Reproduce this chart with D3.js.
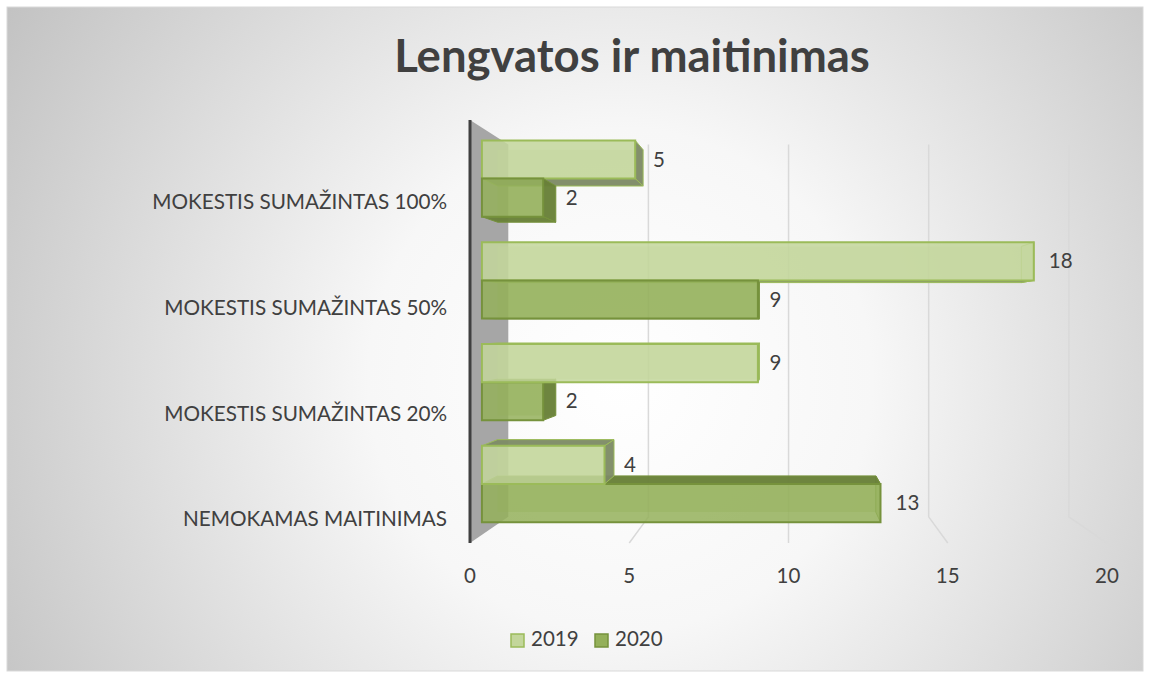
<!DOCTYPE html>
<html>
<head>
<meta charset="utf-8">
<script src="https://cdn.jsdelivr.net/npm/d3@7"></script>
<style>
  body { margin: 0; background: #ffffff; }
  text { font-family: Lato, "Open Sans", sans-serif; fill: #404040; }
</style>
</head>
<body>
<div id="chart"></div>
<script>
// data (Excel order: bottom category first)
var categories = ["NEMOKAMAS MAITINIMAS", "MOKESTIS SUMAŽINTAS 20%", "MOKESTIS SUMAŽINTAS 50%", "MOKESTIS SUMAŽINTAS 100%"];
var seriesNames = ["2019", "2020"];
var values2019 = [4, 9, 18, 5];
var values2020 = [13, 2, 9, 2];
var xTicks = [0, 5, 10, 15, 20];
var chartTitle = "Lengvatos ir maitinimas";

function init() {
    var w = 1149;
    var h = 675;

    var colors = {
        "2019": { face: "#c3d69b", side: "#7d8a66", stroke: "#9bbb59" },
        "2020": { face: "#94b05a", side: "#687f38", stroke: "#76923c" }
    };

    var svg = d3.select("#chart")
        .append("svg")
        .attr("width", w)
        .attr("height", h);

    var defs = svg.append("defs");
    var bg = defs.append("radialGradient")
        .attr("id", "bg")
        .attr("gradientUnits", "userSpaceOnUse")
        .attr("cx", 620).attr("cy", 380).attr("r", 720);
    bg.append("stop").attr("offset", "0%").attr("stop-color", "#ffffff");
    bg.append("stop").attr("offset", "35%").attr("stop-color", "#f7f7f7");
    bg.append("stop").attr("offset", "100%").attr("stop-color", "#c2c2c2");

    svg.append("rect")
        .attr("x", 7).attr("y", 7)
        .attr("width", 1136).attr("height", 664)
        .attr("fill", "url(#bg)")
        .attr("stroke", "#d9d9d9")
        .attr("stroke-width", 1);

    // front plane scales, depth projection toward a vanishing point
    var x = d3.scaleLinear().domain([0, 20]).range([470, 1107]);
    var yBand = d3.scaleBand()
        .domain(categories.slice().reverse())
        .range([120, 543])
        .paddingInner(0.25)
        .paddingOuter(0.125);
    var ySub = d3.scaleBand().domain(seriesNames).range([0, yBand.bandwidth()]);
    var shrink = d3.scaleLinear().domain([0, 1]).range([1, 0.88]);
    var vp = [789, 325];

    function proj(v, y, z) {
        var s = shrink(z);
        return [vp[0] + (x(v) - vp[0]) * s, vp[1] + (y - vp[1]) * s];
    }
    function poly(pts) {
        return "M" + pts.map(function (p) { return p[0].toFixed(1) + "," + p[1].toFixed(1); }).join("L") + "Z";
    }

    var yTop = yBand.range()[0], yBot = yBand.range()[1];

    // left wall
    svg.append("path")
        .attr("d", poly([proj(0, yTop, 0), proj(0, yTop, 1), proj(0, yBot, 1), proj(0, yBot, 0)]))
        .attr("fill", "#a6a6a6");

    // gridlines on back wall + floor
    svg.selectAll(".grid")
        .data(xTicks.filter(function (d) { return d > 0; }))
        .enter().append("path")
        .attr("class", "grid")
        .attr("d", function (d) {
            var a = proj(d, yTop, 1), b = proj(d, yBot, 1), c = proj(d, yBot, 0);
            return "M" + a + "L" + b + "L" + c;
        })
        .attr("fill", "none")
        .attr("stroke", "#d9d9d9")
        .attr("stroke-width", 1.5);

    // axis line
    svg.append("line")
        .attr("x1", x(0)).attr("y1", yTop)
        .attr("x2", x(0)).attr("y2", yBot)
        .attr("stroke", "#404040")
        .attr("stroke-width", 3);

    // bars
    var z0 = 0.31, z1 = 0.72;
    var bars = [];
    categories.forEach(function (c, i) {
        var list = [
            { cat: c, key: "2019", value: values2019[i] },
            { cat: c, key: "2020", value: values2020[i] }
        ];
        list.forEach(function (b) {
            b.y0 = yBand(c) + ySub(b.key);
            b.y1 = b.y0 + ySub.bandwidth();
        });
        // draw the bar farther from eye level first
        if (list[0].y1 > vp[1]) list.reverse();
        bars = bars.concat(list);
    });

    var barG = svg.selectAll(".bar")
        .data(bars)
        .enter().append("g")
        .attr("class", "bar");

    barG.each(function (b) {
        var g = d3.select(this);
        var col = colors[b.key];
        var v = b.value;
        // back face
        g.append("path")
            .attr("d", poly([proj(0, b.y0, z1), proj(v, b.y0, z1), proj(v, b.y1, z1), proj(0, b.y1, z1)]))
            .attr("fill", col.face).attr("fill-opacity", 0.35);
        // end cap
        g.append("path")
            .attr("d", poly([proj(v, b.y0, z0), proj(v, b.y0, z1), proj(v, b.y1, z1), proj(v, b.y1, z0)]))
            .attr("fill", x(v) < vp[0] ? col.side : col.face)
            .attr("fill-opacity", x(v) < vp[0] ? 0.95 : 0.6)
            .attr("stroke", col.stroke).attr("stroke-width", 1);
        // top or bottom face
        var yy = b.y1 < vp[1] ? b.y1 : b.y0;
        g.append("path")
            .attr("d", poly([proj(0, yy, z0), proj(v, yy, z0), proj(v, yy, z1), proj(0, yy, z1)]))
            .attr("fill", col.side).attr("fill-opacity", 0.95)
            .attr("stroke", col.stroke).attr("stroke-width", 1);
        // front face
        g.append("path")
            .attr("d", poly([proj(0, b.y0, z0), proj(v, b.y0, z0), proj(v, b.y1, z0), proj(0, b.y1, z0)]))
            .attr("fill", col.face).attr("fill-opacity", 0.85)
            .attr("stroke", col.stroke).attr("stroke-width", 2);
    });

    // data labels
    svg.selectAll(".dlabel")
        .data(bars)
        .enter().append("text")
        .attr("class", "dlabel")
        .attr("x", function (b) {
            var ends = [proj(b.value, b.y0, z0)[0], proj(b.value, b.y0, z1)[0]];
            return d3.max(ends) + (x(b.value) < vp[0] ? 10 : 15);
        })
        .attr("y", function (b) { return proj(0, (b.y0 + b.y1) / 2, z0)[1] + 2; })
        .attr("dominant-baseline", "middle")
        .style("font-size", "20.5px")
        .text(function (b) { return b.value; });

    // category labels
    svg.selectAll(".clabel")
        .data(categories)
        .enter().append("text")
        .attr("class", "clabel")
        .attr("x", 447)
        .attr("y", function (c) { return yBand(c) + yBand.bandwidth() / 2 + 31; })
        .attr("text-anchor", "end")
        .attr("dominant-baseline", "middle")
        .style("font-size", "20.7px")
        .text(function (c) { return c; });

    // x tick labels
    svg.selectAll(".xlabel")
        .data(xTicks)
        .enter().append("text")
        .attr("class", "xlabel")
        .attr("x", function (d) { return x(d); })
        .attr("y", 578)
        .attr("text-anchor", "middle")
        .attr("dominant-baseline", "middle")
        .style("font-size", "20.5px")
        .text(function (d) { return d; });

    // title
    svg.append("text")
        .attr("x", 632)
        .attr("y", 72)
        .attr("text-anchor", "middle")
        .style("font-size", "45.5px")
        .style("font-weight", "bold")
        .text(chartTitle);

    // legend
    var legend = svg.selectAll(".legend")
        .data(seriesNames)
        .enter().append("g")
        .attr("class", "legend")
        .attr("transform", function (d, i) { return "translate(" + (511 + i * 84) + ",634)"; });
    legend.append("rect")
        .attr("width", 13).attr("height", 13)
        .attr("fill", function (d) { return colors[d].face; })
        .attr("stroke", function (d) { return colors[d].stroke; })
        .attr("stroke-width", 1.5);
    legend.append("text")
        .attr("x", 20).attr("y", 7)
        .attr("dominant-baseline", "middle")
        .style("font-size", "20.5px")
        .text(function (d) { return d; });
}

window.onload = init;
</script>
</body>
</html>
